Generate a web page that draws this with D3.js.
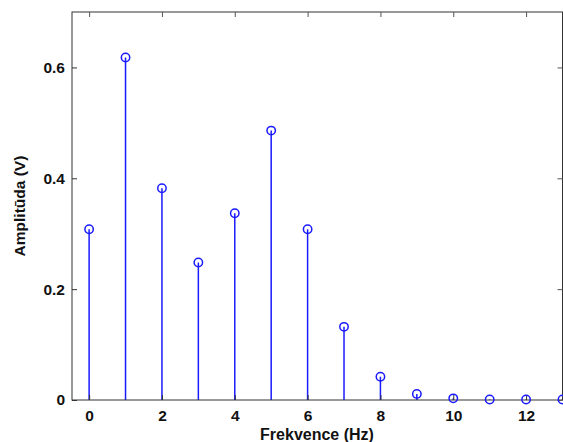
<!DOCTYPE html>
<html>
<head>
<meta charset="utf-8">
<script src="https://cdn.jsdelivr.net/npm/d3@7"></script>
<style>
  body { margin: 0; background: #fff; }
  text { font-family: "Liberation Sans", Arial, sans-serif; font-weight: bold; }
</style>
</head>
<body>
<svg width="563" height="442"></svg>
<script>
var svg = d3.select("svg"),
    width = +svg.attr("width"),
    height = +svg.attr("height");

// spectrum values
var freq = [0, 1, 2, 3, 4, 5, 6, 7, 8, 9, 10, 11, 12, 13];
var amp = [0.308, 0.618, 0.382, 0.248, 0.337, 0.486, 0.308, 0.132, 0.042, 0.011, 0.003, 0.001, 0.001, 0.001];
var xTicks = [0, 2, 4, 6, 8, 10, 12];
var yTicks = [0, 0.2, 0.4, 0.6];

// plot box (note: "top" is a reserved window prop, so use px*)
var pxLeft = 72, pxRight = 562.5, pxTop = 12, pxBottom = 400;

var x = d3.scaleLinear().domain([-0.47, 13]).range([pxLeft, pxRight]);
var y = d3.scaleLinear().domain([0, 0.7]).range([pxBottom, pxTop]);

var blue = "#1a1aff";

// stems
svg.append("g").selectAll("line")
    .data(freq)
  .enter().append("line")
    .attr("x1", function(d) { return x(d); })
    .attr("x2", function(d) { return x(d); })
    .attr("y1", y(0))
    .attr("y2", function(d, i) { return y(amp[i]); })
    .attr("stroke", blue)
    .attr("stroke-width", 1.5);

// frame
svg.append("rect")
    .attr("x", pxLeft).attr("y", pxTop)
    .attr("width", pxRight - pxLeft).attr("height", pxBottom - pxTop)
    .attr("fill", "none")
    .attr("stroke", "#333")
    .attr("stroke-width", 1);

// bottom axis, ticks pointing inward
var xAxis = svg.append("g")
    .attr("transform", "translate(0," + pxBottom + ")")
    .call(d3.axisBottom(x).tickValues(xTicks).tickSize(-5).tickPadding(10).tickFormat(d3.format("d")));
xAxis.select(".domain").remove();
xAxis.selectAll("text").attr("font-size", 15.5).attr("fill", "#111")
    .style("font-family", "Liberation Sans, Arial, sans-serif").style("font-weight", "bold");
xAxis.selectAll("line").attr("stroke", "#333");

// top ticks
var xTop = svg.append("g")
    .attr("transform", "translate(0," + pxTop + ")")
    .call(d3.axisTop(x).tickValues(xTicks).tickSize(-5).tickFormat(""));
xTop.select(".domain").remove();
xTop.selectAll("line").attr("stroke", "#555");

// left axis
var yAxis = svg.append("g")
    .attr("transform", "translate(" + pxLeft + ",0)")
    .call(d3.axisLeft(y).tickValues(yTicks).tickSize(-5).tickPadding(7)
      .tickFormat(function(d) { return d === 0 ? "0" : d3.format(".1f")(d); }));
yAxis.select(".domain").remove();
yAxis.selectAll("text").attr("font-size", 15.5).attr("fill", "#111")
    .style("font-family", "Liberation Sans, Arial, sans-serif").style("font-weight", "bold");
yAxis.selectAll("line").attr("stroke", "#333");

// right ticks
var yRight = svg.append("g")
    .attr("transform", "translate(" + pxRight + ",0)")
    .call(d3.axisRight(y).tickValues(yTicks).tickSize(-5).tickFormat(""));
yRight.select(".domain").remove();
yRight.selectAll("line").attr("stroke", "#555");

// markers
svg.append("g").selectAll("circle")
    .data(freq)
  .enter().append("circle")
    .attr("cx", function(d) { return x(d); })
    .attr("cy", function(d, i) { return y(amp[i]); })
    .attr("r", 4.2)
    .attr("fill", "none")
    .attr("stroke", blue)
    .attr("stroke-width", 1.5);

// axis labels
svg.append("text")
    .attr("x", 317)
    .attr("y", 440)
    .attr("text-anchor", "middle")
    .attr("font-size", 16)
    .attr("fill", "#111")
    .text("Frekvence (Hz)");

svg.append("text")
    .attr("transform", "translate(25," + (pxBottom + pxTop) / 2 + ") rotate(-90)")
    .attr("text-anchor", "middle")
    .attr("font-size", 15.5)
    .attr("fill", "#111")
    .text("Amplitūda (V)");
</script>
</body>
</html>
